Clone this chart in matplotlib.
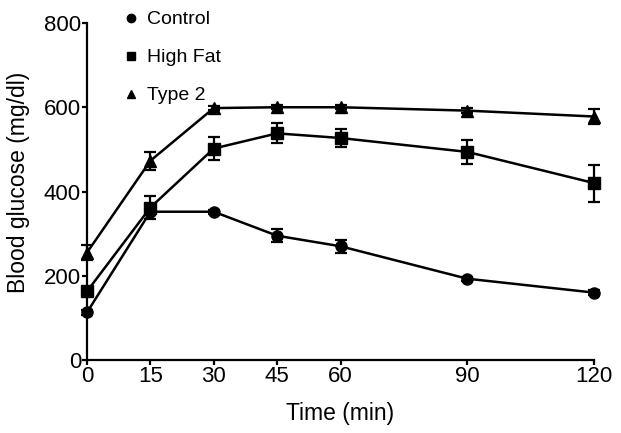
import matplotlib
matplotlib.use("Agg")
import matplotlib.pyplot as plt

plt.rcParams['font.family'] = ['Liberation Sans', 'DejaVu Sans']

time_min = [0, 15, 30, 45, 60, 90, 120]

control = [113, 352, 352, 295, 270, 193, 160]
control_err = [6, 8, 5, 16, 15, 5, 5]

high_fat = [163, 362, 502, 538, 527, 494, 420]
high_fat_err = [8, 27, 27, 24, 22, 28, 44]

type2 = [255, 473, 598, 600, 600, 592, 578]
type2_err = [18, 21, 5, 5, 5, 6, 17]

x_ticks = [0, 15, 30, 45, 60, 90, 120]
y_ticks = [0, 200, 400, 600, 800]

fig = plt.figure(figsize=(6.21, 4.33), dpi=100)
ax = fig.add_axes([87 / 621, 73 / 433, 507 / 621, 337 / 433])

series = [
    ("Control", control, control_err, 'o'),
    ("High Fat", high_fat, high_fat_err, 's'),
    ("Type 2", type2, type2_err, '^'),
]
for label, vals, err, mk in series:
    ax.errorbar(time_min, vals, yerr=err, color='black', marker=mk, markersize=8,
                linewidth=1.8, elinewidth=1.6, capsize=4, capthick=1.6, label=label,
                clip_on=False)

ax.set_xlim(0, 120)
ax.set_ylim(0, 800)
ax.set_xticks(x_ticks)
ax.set_yticks(y_ticks)
ax.spines['top'].set_visible(False)
ax.spines['right'].set_visible(False)
ax.spines['left'].set_linewidth(1.6)
ax.spines['bottom'].set_linewidth(1.6)
ax.tick_params(width=1.6, length=3.5, labelsize=16, pad=0.8)

ax.set_xlabel("Time (min)", fontsize=16.5, va='baseline')
ax.xaxis.set_label_coords(0.5, -60 / 337)
ax.set_ylabel("Blood glucose (mg/dl)", fontsize=16.5, va='center')
ax.yaxis.set_label_coords(-69 / 507, 0.527)

handles, labels = ax.get_legend_handles_labels()
handles = [h[0] for h in handles]
leg = fig.legend(handles, labels, loc='upper left', bbox_to_anchor=(111 / 621, 1 - 1 / 433),
                 frameon=False, fontsize=14, handlelength=1.1, handletextpad=0.25,
                 labelspacing=1.05, borderpad=0, markerscale=0.75)
for h in leg.legend_handles:
    h.set_linestyle('None')

fig.savefig("out.png", dpi=100)
